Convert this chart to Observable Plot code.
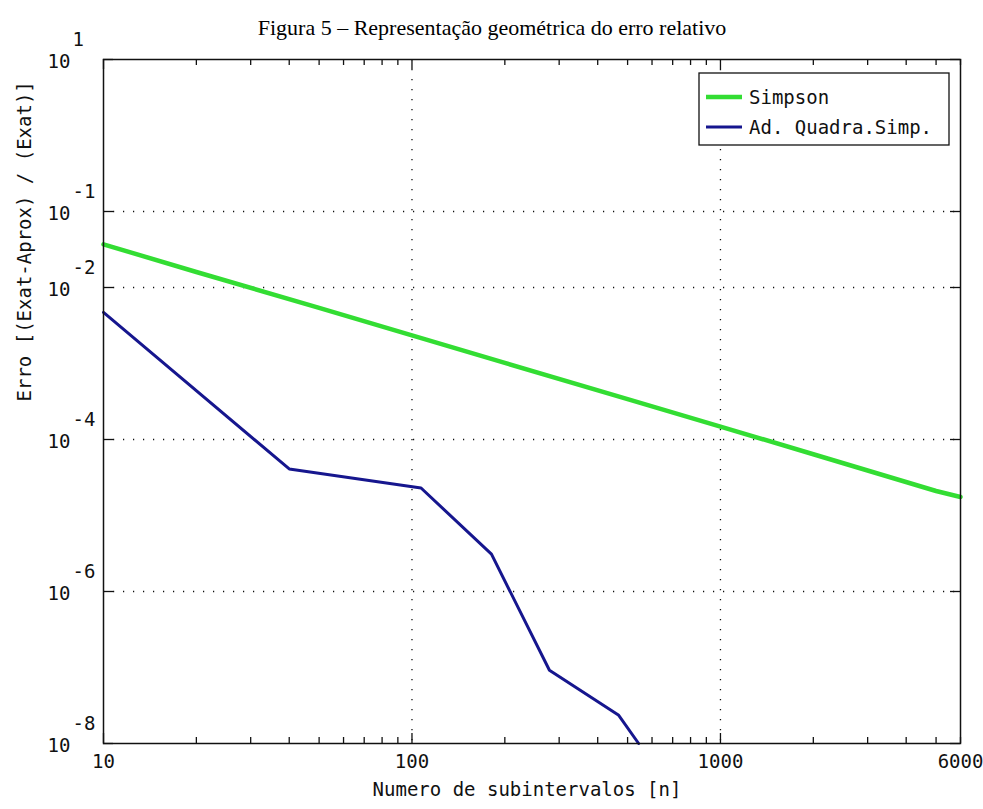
<!DOCTYPE html>
<html><head><meta charset="utf-8">
<script src="https://cdn.jsdelivr.net/npm/d3@7"></script>
<script src="https://cdn.jsdelivr.net/npm/@observablehq/plot@0.6"></script>
<style>body{margin:0;background:#fff}#chart svg{display:block}</style>
</head><body><div id="chart"></div>
<script>
// ---- data ----
const titleText = "Figura 5 – Representação geométrica do erro relativo";
const xLabel = "Numero de subintervalos [n]";
const yLabel = "Erro [(Exat-Aprox) / (Exat)]";
const seriesNames = ["Simpson", "Ad. Quadra.Simp."];
const seriesColors = ["#33dd33", "#16168e"];

const simpsonN   = [10, 20, 50, 100, 200, 500, 1000, 2000, 5000, 6000];
const simpsonErr = [3.7e-2, 1.6e-2, 5.4e-3, 2.35e-3, 1.02e-3, 3.4e-4, 1.48e-4, 6.4e-5, 2.1e-5, 1.75e-5];

const adaptN   = [10, 40, 107, 181, 279, 468, 543];
const adaptErr = [4.7e-3, 4.1e-5, 2.3e-5, 3.1e-6, 9.2e-8, 2.35e-8, 1e-8];

const xTickValues = [10, 100, 1000, 6000];
const xTickLabels = ["10", "100", "1000", "6000"];
const xMajorTicks = [10, 100, 1000];
const xMinorTicks = [20, 30, 40, 50, 60, 70, 80, 90, 200, 300, 400, 500, 600, 700, 800, 900, 2000, 3000, 4000, 5000, 6000];
const xGrid = [100, 1000];

const yTickValues = [10, 1e-1, 1e-2, 1e-4, 1e-6, 1e-8];
const yTickBase = "10";
const yTickExponents = ["1", "-1", "-2", "-4", "-6", "-8"];
const yGrid = [1e-1, 1e-2, 1e-4, 1e-6];

// ---- build ----
const simpson = simpsonN.map((n, i) => ({n, e: simpsonErr[i]}));
const adapt = adaptN.map((n, i) => ({n, e: adaptErr[i]}));

const W = 983, H = 809, mL = 103, mR = 23, mT = 59, mB = 66;
const fw = W - mL - mR, fh = H - mT - mB;
const mono = "DejaVu Sans Mono";
const dots = "1.2,8.8";

const svg = Plot.plot({
  width: W, height: H,
  marginLeft: mL, marginRight: mR, marginTop: mT, marginBottom: mB,
  style: {fontFamily: mono, fontSize: "19px", background: "white", color: "#111"},
  x: {type: "log", domain: [10, 6000], axis: null},
  y: {type: "log", domain: [1e-8, 10], axis: null},
  marks: [
    Plot.ruleY(yGrid, {y: d => d, stroke: "#111", strokeWidth: 1.3, strokeDasharray: dots}),
    Plot.ruleX(xGrid, {x: d => d, stroke: "#111", strokeWidth: 1.3, strokeDasharray: dots}),
    Plot.ruleX(xMinorTicks, {x: d => d, insetTop: fh - 6, stroke: "#111", strokeWidth: 1.3}),
    Plot.ruleX(xMinorTicks, {x: d => d, insetBottom: fh - 6, stroke: "#111", strokeWidth: 1.3}),
    Plot.ruleX(xMajorTicks, {x: d => d, insetTop: fh - 10, stroke: "#111", strokeWidth: 1.3}),
    Plot.ruleX(xMajorTicks, {x: d => d, insetBottom: fh - 10, stroke: "#111", strokeWidth: 1.3}),
    Plot.ruleY(yTickValues, {y: d => d, insetRight: fw - 10, stroke: "#111", strokeWidth: 1.3}),
    Plot.ruleY(yTickValues, {y: d => d, insetLeft: fw - 10, stroke: "#111", strokeWidth: 1.3}),
    Plot.line(simpson, {x: "n", y: "e", stroke: seriesColors[0], strokeWidth: 4.5, strokeLinejoin: "round"}),
    Plot.line(adapt, {x: "n", y: "e", stroke: seriesColors[1], strokeWidth: 3, strokeLinejoin: "round"}),
    Plot.frame({stroke: "#111", strokeWidth: 1.5}),
    Plot.text(xTickValues, {x: d => d, text: (d, i) => xTickLabels[i], frameAnchor: "bottom", dy: 24, fill: "#111"}),
    Plot.text(yTickValues, {y: d => d, text: () => yTickBase, frameAnchor: "left", dx: -33, dy: 2, textAnchor: "end", fill: "#111"}),
    Plot.text(yTickValues, {y: d => d, text: (d, i) => yTickExponents[i], frameAnchor: "left", dx: -31, dy: -20, textAnchor: "start", fill: "#111"}),
    Plot.text([xLabel], {text: d => d, frameAnchor: "bottom", dy: 52, dx: -5, fill: "#111"}),
    Plot.text([yLabel], {text: d => d, frameAnchor: "left", dx: -79, rotate: -90, fill: "#111"}),
    Plot.text([titleText], {text: d => d, frameAnchor: "top", dy: -40, dx: -40, fontFamily: "Liberation Serif", fontSize: 22, fill: "#000"})
  ]
});

// legend
const lg = d3.select(svg).append("g").attr("font-family", mono).attr("font-size", 19).attr("text-anchor", "start");
lg.append("rect").attr("x", 699).attr("y", 73).attr("width", 250).attr("height", 72)
  .attr("fill", "white").attr("stroke", "#111").attr("stroke-width", 1.3);
seriesNames.forEach((name, i) => {
  const yy = 97 + i * 30;
  lg.append("line").attr("x1", 706).attr("x2", 742).attr("y1", yy).attr("y2", yy)
    .attr("stroke", seriesColors[i]).attr("stroke-width", i === 0 ? 4.5 : 3);
  lg.append("text").attr("x", 749).attr("y", yy).attr("dy", "0.35em").attr("text-anchor", "start").attr("fill", "#111").text(name);
});

document.getElementById("chart").appendChild(svg);
</script>
</body></html>
